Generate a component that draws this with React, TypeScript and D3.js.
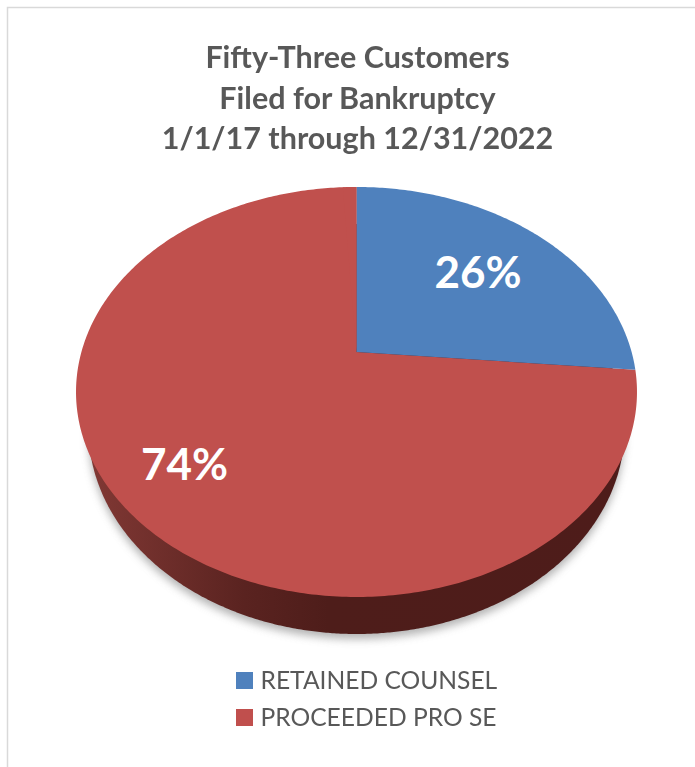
import React from "react";
import * as d3 from "d3";

const categories = ["RETAINED COUNSEL", "PROCEEDED PRO SE"];
const customerCounts = [14, 39];
const percentLabels = ["26%", "74%"];
const titleLines = ["Fifty-Three Customers", "Filed for Bankruptcy", "1/1/17 through 12/31/2022"];

const W = 695;
const H = 767;
const FONT = "Lato, Carlito, 'Open Sans', sans-serif";
const sliceColors = ["#4f81bd", "#c0504d"];

// perspective projection of the pie's circle
const cx = 356.5;
const cy = 352;
const tilt = 0.195;
const scaleX = 275.1;
const scaleY = 197.2;
const project = (angle: number, r = 1): [number, number] => {
  const u = r * Math.sin(angle);
  const v = -r * Math.cos(angle);
  const d = 1 - tilt * v;
  return [cx + (scaleX * u) / d, cy + (scaleY * v) / d];
};

const pieLayout = d3.pie<number>().sort(null).startAngle(0).endAngle(2 * Math.PI);
const arcs = pieLayout(customerCounts);
const line = d3.line<[number, number]>().curve(d3.curveLinear);

const slicePath = (a0: number, a1: number) => {
  const n = Math.ceil((a1 - a0) * 80);
  const angles = d3.range(n + 1).map((i) => a0 + ((a1 - a0) * i) / n);
  return line([project(0, 0), ...angles.map((a) => project(a))]) + "Z";
};

// the lower rim of the pie's side wall
const wallCy = 429;
const wallRx = 268;
const wallRy = 205;
const wallPath =
  d3
    .lineRadial<number>()
    .angle((a) => a)
    .radius((a) => {
      const s = Math.sin(a);
      const c = Math.cos(a);
      return (wallRx * wallRy) / Math.sqrt((wallRy * s) ** 2 + (wallRx * c) ** 2);
    })(d3.range(0, 2 * Math.PI, 0.01)) + "Z";

const labelRadius = [0.65, 0.77];
const labelPos = arcs.map((a, i) => project((a.startAngle + a.endAngle) / 2, labelRadius[i]));
const labelNudge = [
  [0, 0],
  [2, -2],
];

export default function App() {
  return (
    <svg
      width={W}
      height={H}
      viewBox={`0 0 ${W} ${H}`}
      style={{ position: "absolute", left: 0, top: 0, background: "#fff" }}
    >
      <defs>
        <linearGradient
          id="wall"
          gradientUnits="userSpaceOnUse"
          x1={76 - cx}
          x2={637 - cx}
          y1={0}
          y2={0}
        >
          <stop offset="0" stopColor="#843a36" />
          <stop offset="0.3" stopColor="#5a2320" />
          <stop offset="0.45" stopColor="#4e1d1a" />
          <stop offset="1" stopColor="#4e1c1a" />
        </linearGradient>
        <filter id="shadow" x="-10%" y="-10%" width="120%" height="120%">
          <feGaussianBlur stdDeviation="4" />
        </filter>
        <filter id="soft" x="-5%" y="-5%" width="110%" height="110%">
          <feGaussianBlur stdDeviation="0.45" />
        </filter>
      </defs>

      <path d={`M7.5,767V7.5H695`} fill="none" stroke="#d9d9d9" strokeWidth={1.5} />

      <g filter="url(#soft)">
        {titleLines.map((t, i) => (
          <text
            key={t}
            x={357.5}
            y={68 + i * 40.5}
            textAnchor="middle"
            fontFamily={FONT}
            fontWeight={700}
            fontSize={30.5}
            fill="#595959"
          >
            {t}
          </text>
        ))}
      </g>

      <path
        d={wallPath}
        transform={`translate(${cx},${wallCy + 5})`}
        fill="#9a9a9a"
        opacity={0.75}
        filter="url(#shadow)"
      />
      <path d={wallPath} transform={`translate(${cx},${wallCy})`} fill="url(#wall)" />

      <path d={slicePath(arcs[1].startAngle, arcs[1].endAngle)} fill={sliceColors[1]} />
      <path
        d={slicePath(arcs[0].startAngle, arcs[0].endAngle)}
        fill={sliceColors[0]}
      />
      <path
        d={line(d3.range(-0.06, 0.001, 0.002).map((a) => project(a))) + `L${cx},${cy}Z`}
        fill={sliceColors[1]}
      />

      {arcs.map((_, i) => (
        <text
          key={i}
          x={labelPos[i][0] + labelNudge[i][0]}
          y={labelPos[i][1] + 16 + labelNudge[i][1]}
          textAnchor="middle"
          fontFamily={FONT}
          fontWeight={700}
          fontSize={44}
          fill="#fff"
        >
          {percentLabels[i]}
        </text>
      ))}

      <g filter="url(#soft)">
        {categories.map((c, i) => (
          <g key={c} transform={`translate(236,${672 + i * 37})`}>
            <rect width={17} height={17} fill={sliceColors[i]} />
            <text x={24.5} y={17} fontFamily={FONT} fontSize={24.6} fill="#595959">
              {c}
            </text>
          </g>
        ))}
      </g>
    </svg>
  );
}
